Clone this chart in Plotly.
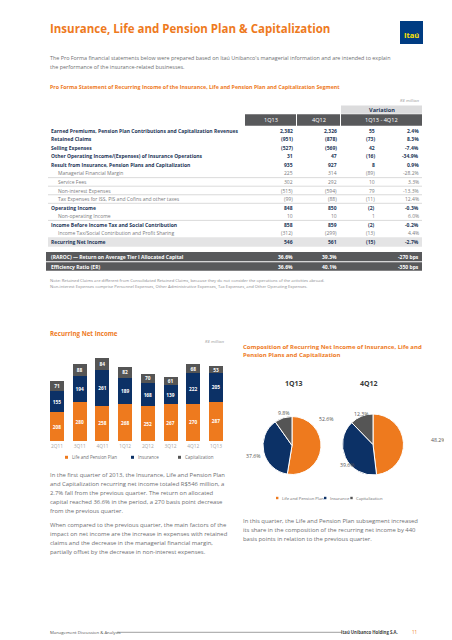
import plotly.graph_objects as go

W, H = 452, 640
def X(p): return p / W
def Y(p): return 1 - p / H

FONT = "Open Sans"
ORANGE = "#EE7A1E"
NAVY = "#0C3166"
CAPGREY = "#555555"
TXT = "#6D6E71"
ROWNAVY = "#1D3658"
HDR = "#58595B"

# ---------------- data ----------------
quarters = ["2Q11", "3Q11", "4Q11", "1Q12", "2Q12", "3Q12", "4Q12", "1Q13"]
life = [208, 280, 258, 268, 252, 267, 270, 287]
insurance = [155, 194, 261, 189, 168, 139, 222, 205]
capitalization = [71, 88, 84, 82, 70, 61, 68, 53]

pie_periods = ["1Q13", "4Q12"]
pie_labels = ["Life and Pension Plan", "Insurance", "Capitalization"]
pie_1q13 = [52.6, 37.6, 9.8]
pie_4q12 = [48.2, 39.6, 12.3]

row_labels = [
    "Earned Premiums, Pension Plan Contributions and Capitalization Revenues",
    "Retained Claims",
    "Selling Expenses",
    "Other Operating Income/(Expenses) of Insurance Operations",
    "Result from Insurance, Pension Plans and Capitalization",
    "Managerial Financial Margin",
    "Service Fees",
    "Non-interest Expenses",
    "Tax Expenses for ISS, PIS and Cofins and other taxes",
    "Operating Income",
    "Non-operating Income",
    "Income Before Income Tax and Social Contribution",
    "Income Tax/Social Contribution and Profit Sharing",
    "Recurring Net Income",
]
row_bold = [1, 1, 1, 1, 1, 0, 0, 0, 0, 1, 0, 1, 0, 1]
col_1q13 = ["2,382", "(951)", "(527)", "31", "935", "225", "302", "(515)", "(99)", "848", "10", "858", "(312)", "546"]
col_4q12 = ["2,326", "(878)", "(569)", "47", "927", "314", "292", "(594)", "(88)", "850", "10", "859", "(299)", "561"]
col_var = ["55", "(73)", "42", "(16)", "8", "(89)", "10", "79", "(11)", "(2)", "1", "(2)", "(13)", "(15)"]
col_pct = ["2.4%", "8.3%", "-7.4%", "-34.9%", "0.9%", "-28.2%", "3.3%", "-13.3%", "12.4%", "-0.3%", "6.0%", "-0.2%", "4.4%", "-2.7%"]

ratio_labels = ["(RAROC) \u2014 Return on Average Tier I Allocated Capital", "Efficiency Ratio (ER)"]
ratio_1q13 = ["36.6%", "36.6%"]
ratio_4q12 = ["39.3%", "40.1%"]
ratio_var = ["-270 bps", "-350 bps"]

# ---------------- figure ----------------
fig = go.Figure()

# stacked bars
for name, vals, col in [("Life and Pension Plan", life, ORANGE),
                        ("Insurance", insurance, NAVY),
                        ("Capitalization", capitalization, CAPGREY)]:
    fig.add_trace(go.Bar(
        x=quarters, y=vals, name=name, marker=dict(color=col, line=dict(width=0)),
        text=vals, texttemplate="%{text}", textposition="inside", textangle=0,
        insidetextanchor="middle", constraintext="none",
        textfont=dict(color="white", size=4.8, family=FONT, weight="bold"),
        hoverinfo="skip", showlegend=False))

pie_cols = [ORANGE, NAVY, CAPGREY]
pie_domains = [dict(x=[X(255), X(313)], y=[Y(467), Y(408)]),
               dict(x=[X(333), X(397)], y=[Y(467), Y(406)])]
for vals, dom in zip([pie_1q13, pie_4q12], pie_domains):
    fig.add_trace(go.Pie(
        labels=pie_labels, values=vals, sort=False, direction="clockwise", rotation=0,
        marker=dict(colors=pie_cols, line=dict(color="white", width=1)),
        textinfo="none", hoverinfo="skip", showlegend=False, domain=dom))

shapes = []
ann = []

def text(x, y, s, size, color=TXT, bold=False, anchor="left", italic=False):
    ann.append(dict(x=X(x), y=Y(y), xref="paper", yref="paper", text=s, showarrow=False,
                    xanchor=anchor, yanchor="middle",
                    font=dict(family=FONT, size=size, color=color,
                              weight="bold" if bold else "normal",
                              style="italic" if italic else "normal")))

def rect(x0, y0, x1, y1, fill):
    shapes.append(dict(type="rect", xref="paper", yref="paper", x0=X(x0), x1=X(x1),
                       y0=Y(y1), y1=Y(y0), fillcolor=fill, line=dict(width=0), layer="below"))

def line(x0, y0, x1, y1, color, w=0.5):
    shapes.append(dict(type="line", xref="paper", yref="paper", x0=X(x0), x1=X(x1),
                       y0=Y(y0), y1=Y(y1), line=dict(color=color, width=w)))

# Title & logo
text(40, 20, "Insurance, Life and Pension Plan & Capitalization", 11.5, ORANGE, True)
shapes.append(dict(type="rect", xref="paper", yref="paper", x0=X(392), x1=X(415),
                   y0=Y(36), y1=Y(13), fillcolor="#003C82", line=dict(width=0)))
text(403.5, 27, "Itaú", 7.5, "#FFE500", True, "center")

text(40, 49.5, "The Pro Forma financial statements below were prepared based on Itaú Unibanco's managerial information and are intended to explain", 5.4)
text(40, 58.5, "the performance of the insurance-related businesses.", 5.4)

text(40, 79, "Pro Forma Statement of Recurring Income of the Insurance, Life and Pension Plan and Capitalization Segment", 5.3, ORANGE, True)
text(413, 92, "R$ million", 4.3, "#999999", anchor="right", italic=True)

# Table header
rect(333, 97.5, 414, 105.7, "#DCDCDD")
text(373.5, 101.7, "Variation", 5.6, ROWNAVY, True, "center")
rect(237, 106.3, 288, 117.7, HDR)
rect(289, 106.3, 332, 117.7, HDR)
rect(333, 106.3, 414, 117.7, HDR)
text(262.5, 112, "1Q13", 5.6, "white", anchor="center")
text(310.5, 112, "4Q12", 5.6, "white", anchor="center")
text(373.5, 112, "1Q13 - 4Q12", 5.6, "white", anchor="center")

# Table rows
rect(40, 229.3, 414, 238.7, "#E4E4E5")
y0, dy = 122.7, 8.55
for i, lab in enumerate(row_labels):
    yy = y0 + i * dy
    b = bool(row_bold[i])
    c = ROWNAVY if b else "#7A7B7E"
    text(41 if b else 48, yy, lab, 5.0, c, b)
    text(287, yy, col_1q13[i], 5.0, c, b, "right")
    text(331, yy, col_4q12[i], 5.0, c, b, "right")
    text(369, yy, col_var[i], 5.0, c, b, "right")
    text(413, yy, col_pct[i], 5.0, c, b, "right")
    if i in (5, 6, 7, 8, 10):
        line(40, yy + 4.2, 414, yy + 4.2, "#B5B5B5", 0.5)

# Ratio bars
for j, (ya, yb) in enumerate([(244, 253.3), (254.3, 262.7)]):
    rect(38, ya, 414, yb, HDR)
    ym = (ya + yb) / 2
    text(41, ym, ratio_labels[j], 5.0, "white", True)
    text(287, ym, ratio_1q13[j], 5.0, "white", True, "right")
    text(331, ym, ratio_4q12[j], 5.0, "white", True, "right")
    text(413, ym, ratio_var[j], 5.0, "white", True, "right")

text(40, 272.3, "Note: Retained Claims are different from Consolidated Retained Claims, because they do not consider the operations of the activities abroad.", 4.2, "#8A8B8E")
text(40, 278.7, "Non-interest Expenses comprise Personnel Expenses, Other Administrative Expenses, Tax Expenses, and Other Operating Expenses.", 4.2, "#8A8B8E")

# Bar chart header
text(40, 325.3, "Recurring Net Income", 6.2, ORANGE, True)
text(218, 333, "R$ million", 4.3, "#999999", anchor="right", italic=True)

# Bar legend
for lab, col, sx in zip(pie_labels, pie_cols, [57, 123, 170]):
    rect(sx, 447.8, sx + 3, 450.8, col)
    text(sx + 4.5, 449.3, lab, 4.5, TXT)

# Pie header
text(233, 338.7, "Composition of Recurring Net Income of Insurance, Life and", 6.0, ORANGE, True)
text(233, 347, "Pension Plans and Capitalization", 6.0, ORANGE, True)
text(286, 375, pie_periods[0], 7, "#3A3A3A", True, "center")
text(361, 375, pie_periods[1], 7, "#3A3A3A", True, "center")

# Pie value labels
pos1 = [(318, 410.5), (246, 448), (276, 404.5)]
pos2 = [(430, 432), (339, 457), (353, 405.5)]
for vals, pos in [(pie_1q13, pos1), (pie_4q12, pos2)]:
    for v, (px, py) in zip(vals, pos):
        text(px, py, f"{v:.1f}%", 5.2, "#555555", anchor="center")

# Pie legend
for lab, col, sx in zip(pie_labels, pie_cols, [268, 316, 342.3]):
    rect(sx, 488.8, sx + 2.4, 491.2, col)
    text(sx + 3.5, 490, lab, 4.2, TXT)

# Paragraphs
p_left = [
    "In the first quarter of 2013, the Insurance, Life and Pension Plan",
    "and Capitalization recurring net income totaled R$546 million, a",
    "2.7% fall from the previous quarter. The return on allocated",
    "capital reached 36.6% in the period, a 270 basis point decrease",
    "from the previous quarter.",
]
for k, s in enumerate(p_left):
    text(40, 467.3 + k * 8.9, s, 5.9)
p_left2 = [
    "When compared to the previous quarter, the main factors of the",
    "impact on net income are the increase in expenses with retained",
    "claims and the decrease in the managerial financial margin,",
    "partially offset by the decrease in non-interest expenses.",
]
for k, s in enumerate(p_left2):
    text(40, 516.7 + k * 9.0, s, 5.9)
p_right = [
    "In this quarter, the Life and Pension Plan subsegment increased",
    "its share in the composition of the recurring net income by 440",
    "basis points in relation to the previous quarter.",
]
for k, s in enumerate(p_right):
    text(233, 513.3 + k * 8.9, s, 5.9)

# Footer
text(40, 624.3, "Management Discussion & Analysis", 4.3, "#555555")
line(109, 624.3, 334, 624.3, "#777777", 0.7)
text(392, 624.3, "Itaú Unibanco Holding S.A.", 4.3, "#444444", True, "right")
text(406, 624.3, "11", 4.5, ORANGE, anchor="center")

fig.update_layout(
    width=W, height=H, margin=dict(l=0, r=0, t=0, b=0),
    paper_bgcolor="white", plot_bgcolor="white",
    barmode="stack", bargap=0.38,
    shapes=shapes, annotations=ann,
    xaxis=dict(domain=[X(37.6), X(219.4)], showgrid=False, zeroline=False, showline=False,
               ticks="", tickfont=dict(family=FONT, size=4.8, color="#A5A5A5"),
               ticklabelstandoff=1, fixedrange=True),
    yaxis=dict(domain=[Y(433), Y(343)], range=[0, 654], visible=False, fixedrange=True),
    font=dict(family=FONT),
)

fig.write_html("out.html")
